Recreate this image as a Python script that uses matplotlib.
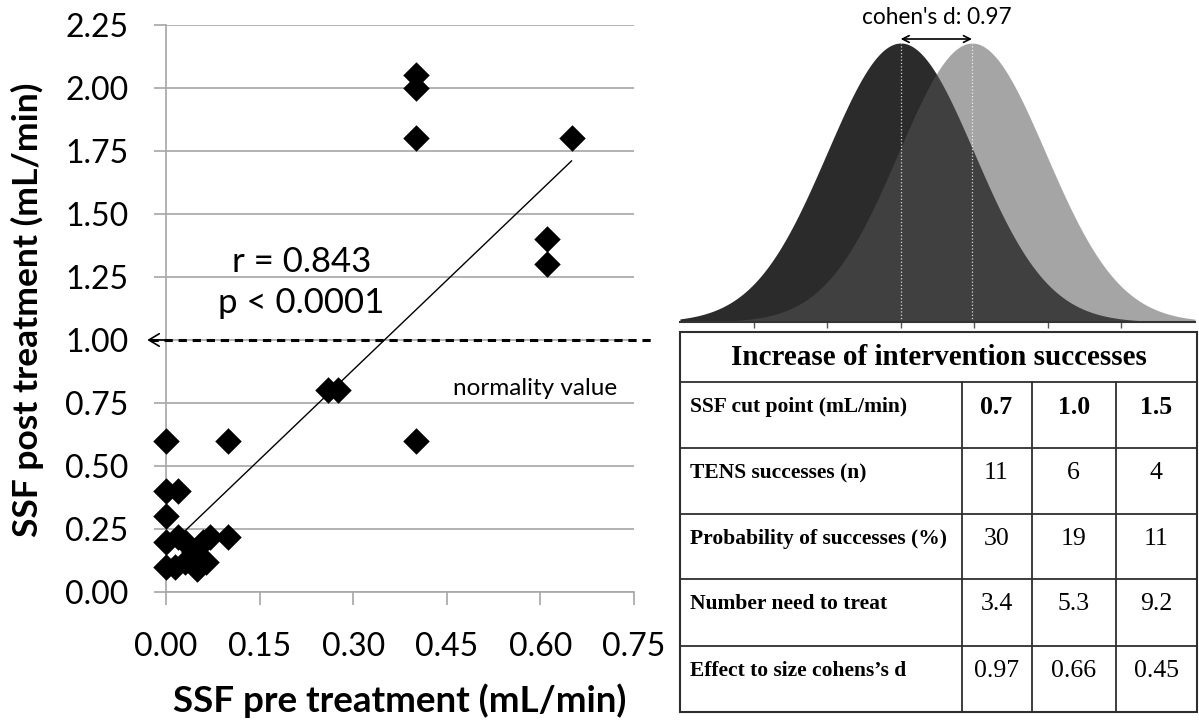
import numpy as np
import matplotlib.pyplot as plt
from matplotlib.patches import Rectangle

plt.rcParams['font.family'] = 'Lato'

# SSF (mL/min) before and after TENS, one diamond per patient
ssf_pre = [0.40, 0.40, 0.40, 0.65, 0.61, 0.61, 0.26, 0.275, 0.40, 0.10,
           0.00, 0.00, 0.02, 0.00, 0.00, 0.02, 0.03, 0.06, 0.07, 0.10,
           0.00, 0.015, 0.03, 0.05, 0.065, 0.045]
ssf_post = [2.05, 2.00, 1.80, 1.80, 1.40, 1.30, 0.80, 0.80, 0.60, 0.60,
            0.60, 0.40, 0.40, 0.30, 0.20, 0.22, 0.20, 0.20, 0.22, 0.22,
            0.10, 0.10, 0.12, 0.09, 0.12, 0.16]

# linear trend drawn over the scatter
trend_x = [0.033, 0.65]
trend_slope = 2.37
trend_intercept = 0.17
r_value = 0.843
p_text = 'p < 0.0001'
normality_cut = 1.00

# effect size between the two normal curves
cohens_d = 0.97

# summary table
table_title = 'Increase of intervention successes'
row_labels = ['SSF cut point (mL/min)', 'TENS successes (n)',
              'Probability of successes (%)', 'Number need to treat',
              'Effect to size cohens\u2019s d']
cut_points = [0.7, 1.0, 1.5]
tens_successes = [11, 6, 4]
prob_successes = [30, 19, 11]
number_needed = [3.4, 5.3, 9.2]
effect_size = [0.97, 0.66, 0.45]

grey = '#a6a6a6'

fig = plt.figure(figsize=(11.99, 7.22), dpi=100)

# ---- scatter ----
ax = fig.add_axes([0.1384, 0.1801, 0.3903, 0.7853])
ax.set_xlim(0, 0.75)
ax.set_ylim(0, 2.25)
xt = np.arange(0, 0.76, 0.15)
yt = np.arange(0, 2.26, 0.25)
ax.set_xticks(xt)
ax.set_xticklabels([f'{v:.2f}' for v in xt])
ax.set_yticks(yt)
ax.set_yticklabels([f'{v:.2f}' for v in yt])
ax.grid(axis='y', color=grey, lw=1.2)
ax.set_axisbelow(True)
for s in ['top', 'right']:
    ax.spines[s].set_visible(False)
for s in ['left', 'bottom']:
    ax.spines[s].set_color(grey)
    ax.spines[s].set_linewidth(1.2)
ax.tick_params(direction='out', length=9, width=1.2, color=grey,
               labelsize=23, pad=18)
ax.tick_params(axis='x', pad=20)

ax.scatter(ssf_pre, ssf_post, marker='D', s=13.5**2, color='black',
           lw=0, zorder=3, clip_on=False)

tx_ = np.array(trend_x)
ax.plot(tx_, trend_slope * tx_ + trend_intercept, color='black', lw=1, zorder=4)

ax.plot([-0.026, 0.78], [normality_cut, normality_cut], color='black',
        lw=2.2, ls=(0, (2.7, 1.9)), clip_on=False, zorder=4)
ax.annotate('', xy=(-0.03, normality_cut), xytext=(0.0, normality_cut),
            arrowprops=dict(arrowstyle='->,head_length=0.5,head_width=0.3',
                            lw=1.2, color='black', mutation_scale=15,
                            shrinkA=0, shrinkB=0),
            annotation_clip=False)

ax.text(0.217, 1.27, f'r = {r_value}', fontsize=25, ha='center', va='baseline')
ax.text(0.217, 1.107, p_text, fontsize=25, ha='center', va='baseline')
ax.text(0.46, 0.78, 'normality value', fontsize=17.5, ha='left', va='baseline')

fig.text(0.3336, 0.0139, 'SSF pre treatment (mL/min)', fontsize=26.5,
         fontweight='bold', ha='center', va='baseline')
fig.text(38 / 1199, 0.5706, 'SSF post treatment (mL/min)', fontsize=25.5,
         fontweight='bold', rotation=90, rotation_mode='anchor',
         ha='center', va='baseline')

# ---- normal curves ----
gx = fig.add_axes([0.5671, 0.554, 0.4295, 0.3864])
xs = np.linspace(-3, 4, 800)
pdf = lambda x, m: np.exp(-0.5 * (x - m) ** 2) / np.sqrt(2 * np.pi)
peak = pdf(0, 0)
gx.set_xlim(-3, 4)
gx.set_ylim(0, peak)
gx.fill_between(xs, pdf(xs, 0), color='#2b2b2b', lw=0)
gx.fill_between(xs, pdf(xs, cohens_d), color='#545454', alpha=0.52, lw=0)
gx.vlines([0, cohens_d], 0, peak, colors='white', linestyles=':', lw=0.9,
          alpha=0.8)
for s in ['top', 'right', 'left']:
    gx.spines[s].set_visible(False)
gx.spines['bottom'].set_color('#333333')
gx.spines['bottom'].set_linewidth(1.5)
gx.set_yticks([])
gx.set_xticks(np.arange(-2, 4))
gx.set_xticklabels([])
gx.tick_params(axis='x', direction='out', length=4, width=1, color='#555555')

arrow_y = peak * (1 + 4 / 277)
gx.annotate('', xy=(0, arrow_y), xytext=(cohens_d, arrow_y),
            arrowprops=dict(arrowstyle='<->,head_length=0.4,head_width=0.2',
                            lw=1.2, color='black', mutation_scale=12,
                            shrinkA=0, shrinkB=0),
            annotation_clip=False)
gx.annotate(f"cohen's d: {cohens_d:.2f}", xy=(cohens_d / 2, peak),
            xytext=(0, 13.7), textcoords='offset points', ha='center',
            va='baseline', fontsize=16.3, annotation_clip=False)

# ---- table ----
tb = fig.add_axes([0.5671, 0.01385, 0.4312, 0.5263])
tb.set_xlim(0, 1)
tb.set_ylim(1, 0)
tb.axis('off')

col_edges = [0, 0.5446, 0.680, 0.843, 1.0]
row_edges = [0, 0.1316, 0.3053, 0.4789, 0.65, 0.8263, 1.0]
line_c = '#2e2e2e'

tb.add_patch(Rectangle((0, 0), 1, 1, fill=False, lw=1.5, ec=line_c,
                       clip_on=False))
for r in row_edges[1:-1]:
    tb.plot([0, 1], [r, r], color=line_c, lw=1.3, clip_on=False)
for c in col_edges[1:-1]:
    tb.plot([c, c], [row_edges[1], 1], color=line_c, lw=1.3, clip_on=False)

serif = 'Liberation Serif'
tb.text(0.5, row_edges[1] / 2, table_title, family=serif, fontweight='bold',
        fontsize=21, ha='center', va='center')

cells = [[f'{v:.1f}' for v in cut_points],
         [str(v) for v in tens_successes],
         [str(v) for v in prob_successes],
         [f'{v:.1f}' for v in number_needed],
         [f'{v:.2f}' for v in effect_size]]

for i, label in enumerate(row_labels):
    top, bot = row_edges[i + 1], row_edges[i + 2]
    y = top + 0.38 * (bot - top)
    tb.text(0.019, y, label, family=serif, fontweight='bold', fontsize=15.5,
            ha='left', va='center')
    for j, val in enumerate(cells[i]):
        cx = (col_edges[j + 1] + col_edges[j + 2]) / 2
        tb.text(cx, y, val, family=serif, fontsize=18.5,
                fontweight='bold' if i == 0 else 'normal',
                ha='center', va='center')

fig.savefig('out.png', dpi=100)
